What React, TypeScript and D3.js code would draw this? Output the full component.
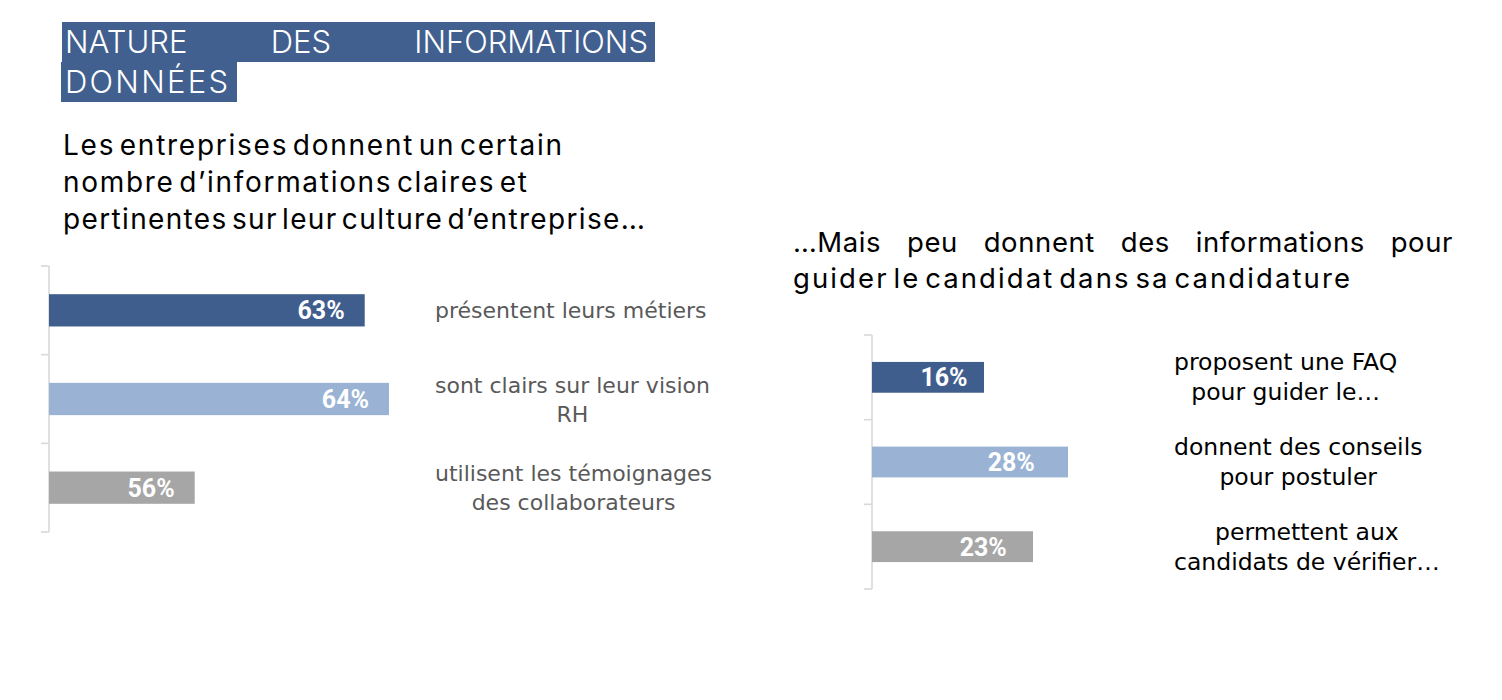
import React, { useEffect, useRef } from "react";
import * as d3 from "d3";

const leftCategories = [
  "présentent leurs métiers",
  "sont clairs sur leur vision\nRH",
  "utilisent les témoignages\ndes collaborateurs",
];
const leftValues = [63, 64, 56];
const rightCategories = [
  "proposent une FAQ\npour guider le…",
  "donnent des conseils\npour postuler",
  "permettent aux\ncandidats de vérifier…",
];
const rightValues = [16, 28, 23];
const barColors = ["#3F5E8E", "#9AB3D5", "#A6A6A6"];
const titleLines = ["NATURE DES INFORMATIONS", "DONNÉES"];
const leftSubtitle = [
  "Les entreprises donnent un certain",
  "nombre d’informations claires et",
  "pertinentes sur leur culture d’entreprise…",
];
const rightSubtitle = [
  "…Mais peu donnent des informations pour",
  "guider le candidat dans sa candidature",
];
const leftDomain = [50, 64];
const rightDomain = [0, 28];

// layout widths of the subtitle lines (px)
const leftSubtitleWidths = [499, 464, 582];
const rightSubtitle2Width = 557;

const HEAD_FONT = "Inter, 'Open Sans', sans-serif";
const LABEL_FONT = "'DejaVu Sans', sans-serif";
const VALUE_FONT = "Roboto, sans-serif";

function justify(g: any, text: string, x0: number, x1: number, y: number, style: any) {
  const words = text.split(" ");
  const nodes = words.map((w) => {
    const t = g.append("text").text(w).attr("y", y);
    Object.entries(style).forEach(([k, v]) => t.attr(k, v as any));
    return t;
  });
  const widths = nodes.map((t: any) => (t.node() as SVGTextElement).getComputedTextLength());
  const total = d3.sum(widths);
  const gap = words.length > 1 ? (x1 - x0 - total) / (words.length - 1) : 0;
  let x = x0;
  nodes.forEach((t: any, i: number) => {
    t.attr("x", x);
    x += widths[i] + gap;
  });
}

function drawChart(
  svg: any,
  cats: string[],
  vals: number[],
  domain: number[],
  opts: {
    x0: number; x1: number; y0: number; y1: number; labelLeft: number;
    labelColor: string; labelSize: number; lineH: number; valueX: (xs: any, v: number) => number;
  }
) {
  const g = svg.append("g");
  const x = d3.scaleLinear().domain(domain).range([opts.x0, opts.x1]);
  const y = d3
    .scaleBand<number>()
    .domain(d3.range(cats.length))
    .range([opts.y0, opts.y1])
    .paddingInner(0.636)
    .paddingOuter(0.318);
  const step = y.step();
  const bw = y.bandwidth();

  const axis = g.append("g").attr("stroke", "#D9D9D9").attr("stroke-width", 1.6).attr("fill", "none");
  axis.append("line").attr("x1", opts.x0).attr("x2", opts.x0).attr("y1", opts.y0).attr("y2", opts.y1);
  d3.range(cats.length + 1).forEach((i) => {
    const ty = opts.y0 + i * step;
    axis.append("line").attr("x1", opts.x0 - 8).attr("x2", opts.x0).attr("y1", ty).attr("y2", ty);
  });

  vals.forEach((v, i) => {
    const by = y(i) as number;
    g.append("rect")
      .attr("x", x(domain[0]))
      .attr("y", by)
      .attr("width", x(v) - x(domain[0]))
      .attr("height", bw)
      .attr("fill", barColors[i]);
    g.append("text")
      .attr("x", opts.valueX(x, v))
      .attr("y", by + bw / 2 + 9)
      .attr("text-anchor", "end")
      .attr("fill", "#FFFFFF")
      .attr("font-family", VALUE_FONT)
      .attr("font-weight", 700)
      .attr("font-size", 25)
      .text(`${v}%`);

    const lines = cats[i].split("\n");
    const lh = opts.lineH;
    const cy = by + bw / 2;
    const firstBase = cy + 8 - ((lines.length - 1) * lh) / 2;
    const nodes = lines.map((ln, k) =>
      g.append("text")
        .attr("y", firstBase + k * lh)
        .attr("text-anchor", "middle")
        .attr("fill", opts.labelColor)
        .attr("font-family", LABEL_FONT)
        .attr("font-size", opts.labelSize)
        .text(ln)
    );
    const maxW = d3.max(nodes, (n: any) => (n.node() as SVGTextElement).getComputedTextLength()) as number;
    nodes.forEach((n: any) => n.attr("x", opts.labelLeft + maxW / 2));
  });
}

export default function App() {
  const ref = useRef<SVGSVGElement>(null);

  useEffect(() => {
    const svg = d3.select(ref.current);
    svg.selectAll("*").remove();

    svg.append("rect").attr("x", 62).attr("y", 22).attr("width", 593).attr("height", 40).attr("fill", "#41608F");
    svg.append("rect").attr("x", 61).attr("y", 62).attr("width", 176).attr("height", 40).attr("fill", "#41608F");
    const titleStyle = {
      fill: "#FFFFFF",
      "font-family": HEAD_FONT,
      "font-weight": 300,
      "font-size": 31,
    };
    justify(svg, titleLines[0], 65, 648, 53, titleStyle);
    const t2 = svg.append("text").attr("x", 65).attr("y", 93).attr("textLength", 163).attr("lengthAdjust", "spacing").text(titleLines[1]);
    Object.entries(titleStyle).forEach(([k, v]) => t2.attr(k, v as any));

    leftSubtitle.forEach((ln, i) => {
      svg.append("text")
        .attr("x", 63)
        .attr("y", 155 + i * 37)
        .attr("fill", "#000")
        .attr("font-family", HEAD_FONT)
        .attr("font-size", 28)
        .attr("word-spacing", -5)
        .attr("textLength", leftSubtitleWidths[i])
        .attr("lengthAdjust", "spacing")
        .text(ln);
    });

    const subStyle = {
      fill: "#000",
      "font-family": HEAD_FONT,
      "font-size": 27.5,
      "letter-spacing": 0.6,
    };
    justify(svg, rightSubtitle[0], 793, 1453, 252, subStyle);
    svg.append("text")
      .attr("x", 793)
      .attr("y", 288)
      .attr("fill", "#000")
      .attr("font-family", HEAD_FONT)
      .attr("font-size", 27.5)
      .attr("word-spacing", -5)
      .attr("textLength", rightSubtitle2Width)
      .attr("lengthAdjust", "spacing")
      .text(rightSubtitle[1]);

    drawChart(svg, leftCategories, leftValues, leftDomain, {
      x0: 49, x1: 389, y0: 266, y1: 532, labelLeft: 435,
      labelColor: "#595959", labelSize: 22, lineH: 29,
      valueX: (xs, v) => xs(v) - 20,
    });
    drawChart(svg, rightCategories, rightValues, rightDomain, {
      x0: 872, x1: 1068, y0: 335, y1: 589, labelLeft: 1174,
      labelColor: "#000000", labelSize: 23.5, lineH: 30,
      valueX: (xs, v) => 872 + (xs(v) - 872) * 0.8 + 6,
    });
  }, []);

  return (
    <svg
      ref={ref}
      width={1502}
      height={700}
      style={{ position: "absolute", left: 0, top: 0, background: "#fff" }}
    />
  );
}
